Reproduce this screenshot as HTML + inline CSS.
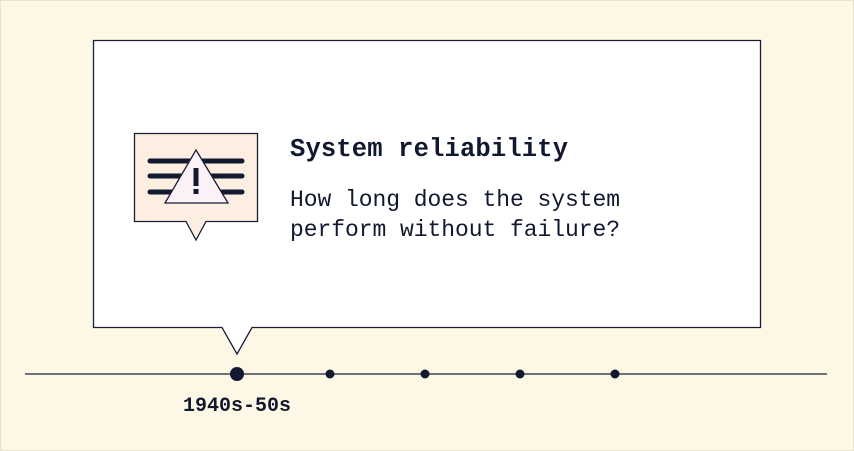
<!DOCTYPE html>
<html><head><style>
body{margin:0;width:854px;height:451px;background:#fdf7e6;overflow:hidden}
svg{display:block}
</style></head><body>
<svg width="854" height="451" viewBox="0 0 854 451">
<rect x="0.5" y="0.5" width="853" height="450" fill="#fdf7e6" stroke="#e8e2d0"/>
<path d="M93.5 40.5 H760.5 V327.5 H252 L237 354 L222 327.5 H93.5 Z" fill="#fff" stroke="#1b1f36" stroke-width="1.3"/>
<line x1="25" y1="374" x2="827" y2="374" stroke="#1b1f36" stroke-width="1.3"/>
<circle cx="237" cy="374" r="7" fill="#121830"/>
<circle cx="330" cy="374" r="4.5" fill="#121830"/>
<circle cx="425" cy="374" r="4.5" fill="#121830"/>
<circle cx="520" cy="374" r="4.5" fill="#121830"/>
<circle cx="615" cy="374" r="4.5" fill="#121830"/>
<text x="183" y="411" font-family="Liberation Mono,monospace" font-weight="bold" font-size="20" textLength="108" fill="#121830">1940s-50s</text>
<path d="M134.5 133.5 H257.5 V221.5 H206 L196 240 L186 221.5 H134.5 Z" fill="#fdeee2" stroke="#1b1f36" stroke-width="1.3"/>
<g stroke="#121830" stroke-width="5" stroke-linecap="round">
<line x1="150" y1="161" x2="242" y2="161"/>
<line x1="150" y1="176" x2="242" y2="176"/>
<line x1="150" y1="192" x2="242" y2="192"/>
</g>
<path d="M196 150 L228 203 H165 Z" fill="#fbf1f6" stroke="#1b1f36" stroke-width="1.3"/>
<rect x="193.5" y="168" width="5" height="18" fill="#121830"/>
<rect x="193.5" y="189" width="5" height="5" fill="#121830"/>
<text x="290" y="156" font-family="Liberation Mono,monospace" font-weight="bold" font-size="25.5" textLength="278" fill="#121830">System reliability</text>
<text x="290" y="206" font-family="Liberation Mono,monospace" font-size="23" textLength="330" fill="#121830">How long does the system</text>
<text x="290" y="236" font-family="Liberation Mono,monospace" font-size="23" textLength="330" fill="#121830">perform without failure?</text>
</svg>
</body></html>
